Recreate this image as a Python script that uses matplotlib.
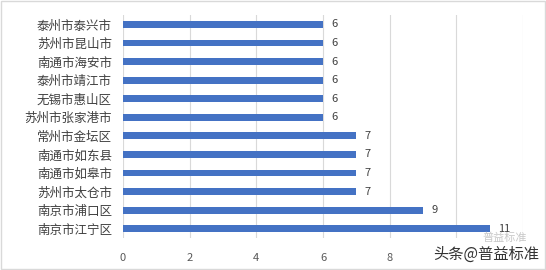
import matplotlib.pyplot as plt
from matplotlib.patches import Rectangle

plt.rcParams['font.family'] = ['Noto Sans CJK SC', 'DejaVu Sans']

# 数据 (从上到下)
cities = ['泰州市泰兴市', '苏州市昆山市', '南通市海安市', '泰州市靖江市', '无锡市惠山区', '苏州市张家港市',
          '常州市金坛区', '南通市如东县', '南通市如皋市', '苏州市太仓市', '南京市浦口区', '南京市江宁区']
counts = [6, 6, 6, 6, 6, 6, 7, 7, 7, 7, 9, 11]
x_ticks = [0, 2, 4, 6, 8, 10, 12]

fig = plt.figure(figsize=(5.46, 2.7), dpi=100)
fig.patches.append(Rectangle((0.002, 0.004), 0.996, 0.992, transform=fig.transFigure,
                             fill=False, edgecolor='#d9d9d9', linewidth=1))
ax = fig.add_axes([0.2253, 0.1185, 0.7327, 0.8255])

y_pos = list(range(len(cities)))
ax.barh(y_pos, counts, height=0.37, color='#4472c4', zorder=3)
for y, v in zip(y_pos, counts):
    ax.text(v + 0.25, y, str(v), va='center', ha='left', fontsize=8, color='#404040')

ax.set_ylim(len(cities) - 0.5, -0.5)
ax.set_xlim(0, 12)
ax.set_yticks(y_pos)
ax.set_yticklabels(cities, fontsize=9, color='#404040')
ax.set_xticks(x_ticks)
ax.set_xticklabels([str(t) for t in x_ticks], fontsize=8, color='#595959')
ax.tick_params(axis='both', length=0)
ax.tick_params(axis='x', pad=11)
ax.tick_params(axis='y', pad=8)
ax.grid(axis='x', color='#d9d9d9', linewidth=0.8, zorder=0)
for s in ax.spines.values():
    s.set_visible(False)

# 水印 (覆盖了右下角的刻度标签)
fig.text(0.987, 0.025, '头条@普益标准', ha='right', va='bottom', fontsize=11, color='#333333',
         zorder=10, bbox=dict(facecolor='white', edgecolor='none', pad=1.0))
fig.text(0.965, 0.1, '普益标准', ha='right', va='bottom', fontsize=8, color='#c8c8c8', zorder=9)

plt.savefig('out.png', dpi=100)
